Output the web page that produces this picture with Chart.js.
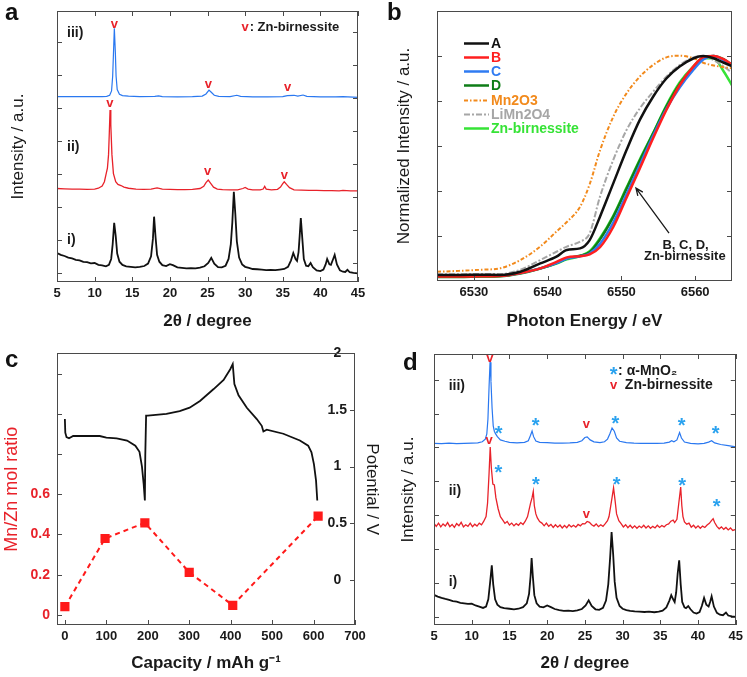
<!DOCTYPE html>
<html lang="en">
<head>
<meta charset="UTF-8">
<title>XRD, XANES and capacity panels</title>
<script src="https://cdn.jsdelivr.net/npm/chart.js"></script>
<style>
  body { margin: 0; background: #fff; }
  #fig { position: relative; width: 747px; height: 677px; overflow: hidden; }
  #fig canvas { position: absolute; }
  .tag { position: absolute; font: bold 24px "Liberation Sans", Arial, sans-serif; line-height: 24px; color: #111; }
</style>
</head>
<body>
<div id="fig">
  <canvas id="chartA" width="374" height="338" style="left:0;top:0"></canvas>
  <canvas id="chartB" width="373" height="338" style="left:374px;top:0"></canvas>
  <canvas id="chartC" width="390" height="339" style="left:0;top:338px"></canvas>
  <canvas id="chartD" width="373" height="339" style="left:374px;top:338px"></canvas>
  <div class="tag" style="left:5px;top:0">a</div>
  <div class="tag" style="left:387px;top:0">b</div>
  <div class="tag" style="left:5px;top:347px">c</div>
  <div class="tag" style="left:403px;top:350px">d</div>
</div>

<script>
// ---- panel a : XRD, 2theta vs intensity (stacked, a.u.) ----
const aTicks = [5, 10, 15, 20, 25, 30, 35, 40, 45];
const aLeftTicks = [3.3, 15.5, 27.7, 39.9, 52.1, 64.3, 76.5, 88.7];
const aRightTicks = [7, 19.2, 31.4, 43.6, 55.8, 68, 80.2, 92.4];
const aBlackX = [5.0,5.5,6.0,6.5,7.0,7.5,8.0,8.5,9.0,9.5,10.0,10.5,11.0,11.5,11.9,12.2,12.4,12.6,12.8,13.0,13.3,13.7,14.2,14.8,15.4,16.0,16.6,17.1,17.5,17.75,17.9,18.1,18.3,18.6,19.0,19.5,20.0,20.4,21.0,21.6,22.2,22.8,23.4,24.0,24.6,25.1,25.5,25.9,26.4,26.9,27.4,27.8,28.1,28.3,28.5,28.7,28.9,29.2,29.6,30.0,30.5,31.0,31.6,32.2,32.8,33.4,34.0,34.6,35.2,35.7,36.1,36.4,36.7,36.9,37.1,37.25,37.4,37.6,37.8,38.1,38.4,38.7,39.0,39.5,40.0,40.4,40.7,40.9,41.2,41.4,41.7,41.9,42.2,42.6,43.0,43.3,43.6,43.9,44.4,45.0];
const aBlackY = [10.7,10.0,9.6,9.0,8.7,8.2,8.0,7.4,7.3,6.9,7.0,6.3,6.1,5.8,6.3,8.5,14.0,21.8,17.0,10.5,7.5,6.3,5.8,5.6,5.4,5.6,5.9,6.8,9.5,16.0,24.1,16.5,10.0,7.5,6.2,5.9,6.6,6.2,5.4,5.2,5.0,5.1,5.0,5.3,5.8,7.0,8.9,6.8,5.5,5.4,6.0,8.5,14.0,22.0,33.3,25.0,15.0,9.0,6.5,5.6,5.2,4.8,4.7,4.6,4.4,4.5,4.4,4.6,4.8,5.6,8.0,10.7,8.5,7.8,11.0,17.0,23.6,16.0,8.5,6.0,5.8,7.0,5.5,4.3,4.0,4.6,6.5,8.5,6.5,6.3,8.5,10.0,6.5,4.3,3.8,3.7,4.5,3.6,3.4,3.2];
const aRedX = [5,6,7,8,9,10,10.5,11.0,11.3,11.5,11.7,11.85,11.95,12.05,12.15,12.3,12.5,12.8,13.1,13.5,13.9,14.5,15.5,16.5,17.5,18.3,19,20,21,22,23,24,24.5,24.8,25.1,25.4,25.8,26.3,27,28,29,29.7,30.0,30.4,31,32,32.4,32.6,32.8,33.5,34.3,34.7,35.0,35.2,35.5,35.9,36.5,37.5,38.5,39.5,40.5,41.5,42.5,43,44,45];
const aRedY = [34.5,34.4,34.3,34.3,34.2,34.3,34.6,35.4,37.0,39.5,42.0,47.0,55.0,63.5,58.0,47.0,40.0,37.0,36.0,35.6,35.0,34.6,34.3,34.2,34.3,34.7,34.3,34.2,34.1,34.1,34.2,34.5,35.3,36.7,37.6,36.5,35.0,34.3,34.1,34.0,34.0,34.5,34.9,34.3,34.0,34.0,34.3,35.3,34.3,34.0,34.2,35.0,36.3,37.0,36.0,34.8,34.0,33.9,33.8,33.8,33.7,33.7,33.6,33.8,33.6,33.6];
const aBlueX = [5,7,9,10,11,11.6,12.0,12.25,12.4,12.5,12.62,12.75,12.85,13.0,13.3,13.7,14.5,16,18,18.5,19,21,23,24.3,24.8,25.2,25.5,25.9,26.5,28,28.9,29.4,31,33,35,35.6,36.5,37.0,37.7,38.2,40,42,43,45];
const aBlueY = [68.4,68.4,68.4,68.4,68.4,68.5,68.9,70.5,76.0,84.0,93.6,85.0,76.0,71.0,69.3,68.8,68.6,68.4,68.5,68.7,68.4,68.3,68.4,68.6,69.4,70.8,70.0,68.9,68.5,68.4,68.9,68.5,68.3,68.3,68.4,68.8,68.9,68.6,69.0,68.5,68.3,68.3,68.4,68.1];

// ---- panel b : Mn K-edge XANES ----
const bTicks = [6530, 6540, 6550, 6560];
const bYTicks = [0.2, 0.4, 0.6, 0.8, 1.0];
const bE = [6525,6528,6531,6533.5,6536.3,6539,6541.2,6542.6,6544.4,6545.7,6547.1,6548.9,6550.7,6552.5,6554.3,6556.1,6557.9,6559.8,6561.1,6562.5,6563.9,6565];
const bA = [0.027,0.027,0.028,0.027,0.041,0.078,0.108,0.138,0.145,0.182,0.286,0.434,0.582,0.716,0.819,0.9,0.953,0.99,1.0,0.99,0.97,0.955];
const bB = [0.02,0.02,0.021,0.022,0.035,0.056,0.085,0.105,0.11,0.118,0.15,0.24,0.37,0.5,0.634,0.76,0.87,0.955,0.995,1.0,0.985,0.962];
const bC = [0.025,0.025,0.025,0.025,0.036,0.056,0.08,0.1,0.11,0.122,0.165,0.26,0.385,0.515,0.645,0.765,0.86,0.94,0.985,1.0,0.98,0.955];
const bD = [0.018,0.018,0.02,0.021,0.033,0.055,0.08,0.1,0.112,0.128,0.185,0.285,0.41,0.535,0.655,0.775,0.875,0.95,0.99,1.0,0.985,0.96];
const bMn2O3 = [0.041,0.045,0.05,0.056,0.093,0.153,0.22,0.262,0.33,0.43,0.58,0.73,0.834,0.908,0.96,0.994,1.001,0.99,0.97,0.958,0.95,0.945];
const bLiMn2O4 = [0.03,0.03,0.031,0.031,0.05,0.093,0.13,0.153,0.175,0.212,0.375,0.538,0.671,0.767,0.841,0.908,0.96,0.994,1.0,0.982,0.953,0.925];
const bZnBir = [0.02,0.02,0.021,0.022,0.035,0.056,0.078,0.096,0.111,0.132,0.19,0.29,0.415,0.54,0.657,0.78,0.882,0.955,0.99,0.99,0.93,0.87];

// ---- panel c : charge/discharge + Mn/Zn ratio ----
const cTicks = [0, 100, 200, 300, 400, 500, 600, 700];
const cRatioLabels = [0, 0.2, 0.4, 0.6];
const cRatioMarks = [0, 0.2, 0.4, 0.6, 0.8, 1.0, 1.2];
const cVoltTicks = [0, 0.5, 1, 1.5, 2];
const cCap = [0,1,4,10,20,50,84,100,125,150,170,180,186,190,193,194,196,200,245,277,301,326,359,383,399,405,409,419,439,463,475,479,487,527,567,587,595,601,606,609];
const cVolt = [1.42,1.30,1.26,1.25,1.27,1.27,1.27,1.255,1.25,1.23,1.185,1.13,1.0,0.85,0.70,1.10,1.45,1.45,1.465,1.49,1.52,1.58,1.685,1.765,1.86,1.905,1.73,1.63,1.52,1.42,1.36,1.31,1.326,1.29,1.23,1.185,1.126,1.02,0.876,0.70];
const cRatioCap = [0, 97, 193, 300, 405, 611];
const cRatio = [0.041, 0.38, 0.458, 0.212, 0.048, 0.491];

// ---- panel d : XRD after cycling ----
const dTicks = [5, 10, 15, 20, 25, 30, 35, 40, 45];
const dSideTicks = [3, 15.5, 28, 40.5, 53, 65.5, 78, 90.5];
const dBlackX = [5.0,5.5,6,6.5,7,7.5,8,8.5,9,9.5,10,10.5,11,11.5,11.9,12.2,12.45,12.66,12.85,13.1,13.4,13.8,14.3,15,15.6,16.2,16.8,17.3,17.6,17.8,17.94,18.1,18.3,18.6,19.0,19.5,20.0,20.5,21.0,21.6,22.2,22.8,23.4,24,24.6,25.1,25.5,25.9,26.4,26.9,27.4,27.8,28.1,28.35,28.54,28.75,28.95,29.2,29.6,30,30.5,31,31.6,32.2,32.9,33.5,34.2,34.8,35.3,35.8,36.2,36.45,36.7,36.9,37.1,37.3,37.5,37.7,37.9,38.2,38.4,38.7,39.0,39.4,39.8,40.2,40.5,40.8,41.1,41.4,41.6,41.8,42.1,42.5,42.9,43.3,43.7,44.0,44.5,45];
const dBlackY = [11.1,10.5,10.0,9.6,9.3,8.8,8.6,8.2,8.0,7.8,7.9,7.2,6.8,6.3,6.8,9.5,16,22.0,15,9.5,7.5,6.6,6.2,6.0,5.8,6.0,6.6,8.0,11.5,18,24.7,18,11,8,6.8,6.5,7.2,6.6,5.9,5.5,5.2,5.3,5.1,5.4,5.9,7.2,9.1,7.0,5.8,5.6,6.3,9,15,25,34.3,26,16,10,7.0,6.0,5.5,5.2,5.0,4.9,4.8,4.9,4.7,4.9,5.3,6.5,9.0,11.0,9.5,8.5,12,19,23.9,15,8.5,6.5,6.2,7.0,5.8,4.6,4.2,4.8,7,10,7.5,6.8,8.5,10.6,6.8,4.5,3.8,3.6,4.6,3.5,3.2,3.0];
const dRedX = [5.0,5.3,5.6,5.9,6.2,6.5,6.8,7.1,7.4,7.7,8.0,8.3,8.6,8.9,9.2,9.5,9.8,10.1,10.4,10.7,11.0,11.3,11.6,11.9,12.1,12.3,12.45,12.6,12.8,13.0,13.2,13.5,13.8,14.1,14.4,14.7,15.0,15.3,15.6,15.9,16.2,16.5,16.8,17.1,17.4,17.6,17.8,18.0,18.16,18.3,18.5,18.7,19.0,19.3,19.6,19.9,20.2,20.5,20.8,21.1,21.4,21.7,22.0,22.3,22.6,22.9,23.2,23.5,23.8,24.1,24.4,24.7,25.0,25.3,25.6,25.9,26.2,26.5,26.8,27.1,27.4,27.7,28.0,28.2,28.4,28.6,28.8,29.0,29.2,29.5,29.8,30.1,30.4,30.7,31.0,31.3,31.6,31.9,32.2,32.5,32.8,33.1,33.4,33.7,34.0,34.3,34.6,34.9,35.2,35.5,35.8,36.1,36.4,36.7,36.9,37.2,37.45,37.7,37.85,38.0,38.2,38.5,38.8,39.1,39.4,39.7,40.0,40.3,40.6,40.9,41.2,41.5,41.8,42.0,42.2,42.5,42.8,43.1,43.4,43.7,44.0,44.3,44.6,45.0];
const dRedY = [37.5,36.4,37.6,36.2,37.3,36.5,37.8,36.3,37.1,36.0,37.4,36.6,37.9,36.2,37.0,36.4,37.6,36.3,37.2,36.5,37.6,37.0,38.3,40.0,45.0,56.0,65.7,58.0,52.0,51.7,47.0,42.9,40.0,38.8,37.5,38.2,36.9,37.6,36.6,37.4,36.8,37.8,37.1,38.3,40.0,42.5,45.0,47.0,49.3,44.0,41.0,39.5,38.2,37.6,36.6,37.6,36.4,37.1,36.0,37.0,36.1,36.9,35.8,36.7,35.9,37.0,36.2,36.8,36.1,37.1,36.6,37.4,37.3,38.2,37.9,37.0,36.5,37.3,36.3,37.0,36.4,37.4,38.5,40.0,43.5,47.0,50.6,46.0,41.0,38.5,37.4,36.2,37.0,35.9,36.8,35.8,36.6,35.7,36.5,35.9,36.8,35.8,36.6,35.7,36.4,35.8,36.8,36.0,36.7,36.2,37.0,37.3,38.3,38.7,37.8,39.0,45.0,50.9,44.0,40.0,38.0,37.2,37.6,36.1,36.8,35.8,36.6,35.7,36.5,36.0,36.9,37.5,38.6,39.2,37.8,36.4,35.5,36.2,35.3,36.0,35.1,35.8,34.9,35.3];
const dBlueX = [5,6,7,8,9,10,10.8,11.4,11.8,12.0,12.15,12.3,12.43,12.55,12.7,12.85,13.0,13.15,13.4,13.8,14.4,15,16,17,17.5,17.8,18.0,18.2,18.5,19,20,21,22,23,24,24.6,25.0,25.3,25.7,26.2,27,27.6,28.0,28.3,28.6,28.9,29.2,29.6,30.5,31.5,32.5,33.5,34.5,35.5,36.2,36.5,36.8,37.2,37.55,37.8,38.2,39,40,40.8,41.4,41.8,42.2,43,44,45];
const dBlueY = [67.0,66.9,67.1,66.9,67.0,67.1,67.2,67.6,68.6,70.5,76.0,88.0,97.0,90.0,80.0,73.5,71.5,70.6,69.5,68.3,67.8,67.4,67.2,67.4,68.0,70.0,71.6,69.5,67.9,67.4,67.3,67.1,67.1,67.2,67.4,68.0,69.2,69.4,68.3,67.6,67.3,67.6,68.6,70.5,72.7,71.5,69.0,67.8,67.3,67.1,67.0,67.0,67.0,67.1,67.5,68.0,67.6,68.3,71.0,69.0,67.5,67.0,66.8,67.0,67.5,68.0,67.2,66.6,66.2,65.7];

const FONT = '"Liberation Sans", Arial, sans-serif';
const INK = '#1a1a1a';
const RED = '#e8222a';
const SKY = '#2aa2ef';
Chart.defaults.font.family = FONT;
Chart.defaults.color = INK;

const pts = (xs, ys) => xs.map((x, i) => ({ x, y: ys[i] }));

// frame around the plot area plus inward tick marks
const boxTicks = {
  id: 'boxTicks',
  afterDatasetsDraw(chart, args, opts) {
    const { ctx, chartArea: a, scales } = chart;
    const len = opts.len || 5;
    ctx.save();
    ctx.strokeStyle = '#4a4a4a';
    ctx.lineWidth = 1;
    ctx.strokeRect(Math.round(a.left) + 0.5, Math.round(a.top) + 0.5,
      Math.round(a.right - a.left) - 1, Math.round(a.bottom - a.top) - 1);
    ctx.beginPath();
    (opts.sets || []).forEach(set => {
      const s = scales[set.scale];
      set.values.forEach(v => {
        const p = Math.round(s.getPixelForValue(v)) + 0.5;
        if (set.side === 'bottom') { ctx.moveTo(p, a.bottom); ctx.lineTo(p, a.bottom - len); }
        if (set.side === 'top') { ctx.moveTo(p, a.top); ctx.lineTo(p, a.top + len); }
        if (set.side === 'left') { ctx.moveTo(a.left, p); ctx.lineTo(a.left + len, p); }
        if (set.side === 'right') { ctx.moveTo(a.right, p); ctx.lineTo(a.right - len, p); }
      });
    });
    ctx.stroke();
    ctx.restore();
  }
};

// text labels and arrows placed in data coordinates
const notes = {
  id: 'notes',
  afterDatasetsDraw(chart, args, opts) {
    const { ctx, scales } = chart;
    ctx.save();
    ctx.textBaseline = 'alphabetic';
    (opts.items || []).forEach(n => {
      ctx.font = n.font || `bold 14px ${FONT}`;
      ctx.fillStyle = n.color || INK;
      ctx.textAlign = n.align || 'center';
      ctx.fillText(n.text, scales.x.getPixelForValue(n.x), scales.y.getPixelForValue(n.y));
    });
    (opts.arrows || []).forEach(r => {
      const x1 = scales.x.getPixelForValue(r.x1), y1 = scales.y.getPixelForValue(r.y1);
      const x2 = scales.x.getPixelForValue(r.x2), y2 = scales.y.getPixelForValue(r.y2);
      const ang = Math.atan2(y2 - y1, x2 - x1);
      ctx.strokeStyle = INK;
      ctx.lineWidth = 1.3;
      ctx.beginPath();
      ctx.moveTo(x1, y1); ctx.lineTo(x2, y2);
      ctx.moveTo(x2 - 8 * Math.cos(ang - 0.4), y2 - 8 * Math.sin(ang - 0.4));
      ctx.lineTo(x2, y2);
      ctx.lineTo(x2 - 8 * Math.cos(ang + 0.4), y2 - 8 * Math.sin(ang + 0.4));
      ctx.stroke();
    });
    ctx.restore();
  }
};

// line legend drawn inside the plot (panel b)
const lineKey = {
  id: 'lineKey',
  afterDatasetsDraw(chart, args, opts) {
    const { ctx } = chart;
    ctx.save();
    ctx.font = `bold 14px ${FONT}`;
    ctx.textBaseline = 'middle';
    ctx.textAlign = 'left';
    chart.data.datasets.forEach((ds, i) => {
      const y = Math.round(opts.y + i * opts.dy) + 0.5;
      ctx.strokeStyle = ds.borderColor;
      ctx.lineWidth = ds.borderWidth;
      ctx.setLineDash(ds.borderDash || []);
      ctx.beginPath();
      ctx.moveTo(opts.x, y); ctx.lineTo(opts.x + opts.len, y);
      ctx.stroke();
      ctx.fillStyle = ds.borderColor;
      ctx.fillText(ds.label, opts.x + opts.len + 2, y + 1);
    });
    ctx.restore();
  }
};

function xAxis(min, max, tickVals, title, height, titlePad) {
  return {
    type: 'linear', min, max,
    afterBuildTicks: s => { s.ticks = tickVals.map(v => ({ value: v })); },
    afterFit: s => { s.height = height; },
    grid: { display: false, drawTicks: false },
    border: { display: false },
    ticks: { padding: 4, autoSkip: false, maxRotation: 0, color: INK,
      font: { size: 13, weight: 'bold' }, callback: v => String(v) },
    title: { display: true, text: title, color: INK,
      font: { size: 17, weight: 'bold' }, padding: { top: 0, bottom: titlePad } }
  };
}

function blankY(min, max, width, title, titlePad) {
  return {
    type: 'linear', min, max,
    afterFit: s => { s.width = width; },
    ticks: { display: false },
    grid: { display: false, drawTicks: false },
    border: { display: false },
    title: { display: true, text: title, color: INK, font: { size: 17 },
      padding: { top: titlePad, bottom: 0 } }
  };
}

const base = {
  responsive: false,
  animation: false,
  events: [],
  elements: { point: { radius: 0 }, line: { tension: 0 } },
};

// panel a
new Chart(document.getElementById('chartA'), {
  type: 'line',
  data: { datasets: [
    { data: pts(aBlueX, aBlueY), borderColor: '#2a78f0', borderWidth: 1.2 },
    { data: pts(aRedX, aRedY), borderColor: RED, borderWidth: 1.3 },
    { data: pts(aBlackX, aBlackY), borderColor: '#111', borderWidth: 1.8 }
  ]},
  options: Object.assign({}, base, {
    layout: { padding: { left: 0, right: 16, top: 11, bottom: 0 } },
    scales: {
      x: xAxis(5, 45, aTicks, '2θ / degree', 56, 6),
      y: blankY(0, 100, 57, 'Intensity / a.u.', 8.4)
    },
    plugins: {
      legend: { display: false }, tooltip: { enabled: false },
      boxTicks: { sets: [
        { scale: 'x', side: 'bottom', values: aTicks },
        { scale: 'x', side: 'top', values: aTicks },
        { scale: 'y', side: 'left', values: aLeftTicks },
        { scale: 'y', side: 'right', values: aRightTicks }
      ]},
      notes: { items: [
        { x: 6.33, y: 90.5, text: 'iii)', align: 'left' },
        { x: 6.33, y: 48.3, text: 'ii)', align: 'left' },
        { x: 6.33, y: 13.9, text: 'i)', align: 'left' },
        { x: 12.62, y: 93.8, text: 'v', color: RED, font: `bold 13px ${FONT}` },
        { x: 25.1, y: 71.5, text: 'v', color: RED, font: `bold 13px ${FONT}` },
        { x: 35.66, y: 70.6, text: 'v', color: RED, font: `bold 13px ${FONT}` },
        { x: 12.04, y: 64.7, text: 'v', color: RED, font: `bold 13px ${FONT}` },
        { x: 25.03, y: 39.5, text: 'v', color: RED, font: `bold 13px ${FONT}` },
        { x: 35.2, y: 38.0, text: 'v', color: RED, font: `bold 13px ${FONT}` },
        { x: 30.0, y: 92.8, text: 'v', color: RED, font: `bold 13px ${FONT}` },
        { x: 30.6, y: 92.8, text: ': Zn-birnessite', align: 'left', font: `bold 13px ${FONT}` }
      ]}
    }
  }),
  plugins: [boxTicks, notes]
});

// panel b
new Chart(document.getElementById('chartB'), {
  type: 'line',
  data: { datasets: [
    { label: 'A', data: pts(bE, bA), borderColor: '#111', borderWidth: 2.5 },
    { label: 'B', data: pts(bE, bB), borderColor: '#ff1f1f', borderWidth: 2.5 },
    { label: 'C', data: pts(bE, bC), borderColor: '#2f7bf2', borderWidth: 2.5 },
    { label: 'D', data: pts(bE, bD), borderColor: '#0e7d17', borderWidth: 2.5 },
    { label: 'Mn2O3', data: pts(bE, bMn2O3), borderColor: '#f28a1c', borderWidth: 2, borderDash: [4, 2, 1.5, 2] },
    { label: 'LiMn2O4', data: pts(bE, bLiMn2O4), borderColor: '#a6a6a6', borderWidth: 2, borderDash: [6, 2, 2, 2] },
    { label: 'Zn-birnessite', data: pts(bE, bZnBir), borderColor: '#36e336', borderWidth: 2.5 }
  ]},
  options: Object.assign({}, base, {
    elements: { point: { radius: 0 }, line: { cubicInterpolationMode: 'monotone' } },
    layout: { padding: { left: 0, right: 15, top: 11, bottom: 0 } },
    scales: {
      x: xAxis(6525, 6565, bTicks, 'Photon Energy / eV', 57, 6),
      y: blankY(0, 1.2, 63, 'Normalized Intensity / a.u.', 19.8)
    },
    plugins: {
      legend: { display: false }, tooltip: { enabled: false },
      boxTicks: { sets: [
        { scale: 'x', side: 'bottom', values: bTicks },
        { scale: 'y', side: 'left', values: bYTicks },
        { scale: 'y', side: 'right', values: bYTicks }
      ]},
      lineKey: { x: 90, y: 43, dy: 14.15, len: 25 },
      notes: {
        items: [
          { x: 6558.7, y: 0.141, text: 'B, C, D,', font: `bold 13px ${FONT}` },
          { x: 6558.6, y: 0.093, text: 'Zn-birnessite', font: `bold 13px ${FONT}` }
        ],
        arrows: [{ x1: 6556.46, y1: 0.213, x2: 6551.98, y2: 0.413 }]
      }
    }
  }),
  plugins: [boxTicks, notes, lineKey]
});

// panel c
new Chart(document.getElementById('chartC'), {
  type: 'line',
  data: { datasets: [
    { data: pts(cRatioCap, cRatio), yAxisID: 'y', borderColor: '#ff1a1a', borderWidth: 2,
      borderDash: [5, 4], pointStyle: 'rect', pointRadius: 6.5,
      pointBackgroundColor: '#ff1a1a', pointBorderWidth: 0 },
    { data: pts(cCap, cVolt), yAxisID: 'y2', borderColor: '#111', borderWidth: 1.8 }
  ]},
  options: Object.assign({}, base, {
    layout: { padding: { left: 0, right: 4, top: 15, bottom: 0 } },
    scales: {
      x: xAxis(-19, 700, cTicks, 'Capacity / mAh g⁻¹', 52, 3),
      y: {
        type: 'linear', position: 'left', min: -0.05, max: 1.3,
        afterBuildTicks: s => { s.ticks = cRatioLabels.map(v => ({ value: v })); },
        afterFit: s => { s.width = 57; },
        grid: { display: false, drawTicks: false }, border: { display: false },
        ticks: { padding: 7, color: RED, font: { size: 14, weight: 'bold' }, callback: v => String(v) },
        title: { display: true, text: 'Mn/Zn mol ratio', color: RED, font: { size: 18 },
          padding: { top: 1, bottom: 0 } }
      },
      y2: {
        type: 'linear', position: 'right', min: -0.4, max: 2,
        afterBuildTicks: s => { s.ticks = cVoltTicks.map(v => ({ value: v })); },
        afterFit: s => { s.width = 31; },
        grid: { display: false, drawTicks: false }, border: { display: false },
        ticks: { mirror: true, crossAlign: 'center', padding: -8, color: INK,
          font: { size: 14, weight: 'bold' }, callback: v => String(v) },
        title: { display: true, text: 'Potential / V', color: INK, font: { size: 17 },
          padding: { top: 4, bottom: 0 } }
      }
    },
    plugins: {
      legend: { display: false }, tooltip: { enabled: false },
      boxTicks: { sets: [
        { scale: 'x', side: 'bottom', values: cTicks },
        { scale: 'y', side: 'left', values: cRatioMarks },
        { scale: 'y2', side: 'right', values: cVoltTicks }
      ]}
    }
  }),
  plugins: [boxTicks]
});

// panel d
const starFont = `bold 20px ${FONT}`;
const vFont = `bold 13px ${FONT}`;
new Chart(document.getElementById('chartD'), {
  type: 'line',
  data: { datasets: [
    { data: pts(dBlueX, dBlueY), borderColor: '#2a78f0', borderWidth: 1.2 },
    { data: pts(dRedX, dRedY), borderColor: RED, borderWidth: 1.3 },
    { data: pts(dBlackX, dBlackY), borderColor: '#111', borderWidth: 1.8 }
  ]},
  options: Object.assign({}, base, {
    layout: { padding: { left: 0, right: 10, top: 16, bottom: 0 } },
    scales: {
      x: xAxis(5, 45, dTicks, '2θ / degree', 52, 3),
      y: blankY(0, 100, 60, 'Intensity / a.u.', 23.8)
    },
    plugins: {
      legend: { display: false }, tooltip: { enabled: false },
      boxTicks: { sets: [
        { scale: 'x', side: 'bottom', values: dTicks },
        { scale: 'x', side: 'top', values: dTicks },
        { scale: 'y', side: 'left', values: dSideTicks },
        { scale: 'y', side: 'right', values: dSideTicks }
      ]},
      notes: { items: [
        { x: 6.94, y: 86.8, text: 'iii)', align: 'left' },
        { x: 6.94, y: 48.1, text: 'ii)', align: 'left' },
        { x: 6.94, y: 14.3, text: 'i)', align: 'left' },
        { x: 12.4, y: 96.9, text: 'v', color: RED, font: vFont },
        { x: 13.58, y: 68.1, text: '*', color: SKY, font: starFont },
        { x: 18.47, y: 71.2, text: '*', color: SKY, font: starFont },
        { x: 25.2, y: 72.7, text: 'v', color: RED, font: vFont },
        { x: 29.03, y: 71.9, text: '*', color: SKY, font: starFont },
        { x: 37.83, y: 71.3, text: '*', color: SKY, font: starFont },
        { x: 42.32, y: 68.2, text: '*', color: SKY, font: starFont },
        { x: 12.3, y: 66.9, text: 'v', color: RED, font: vFont },
        { x: 13.54, y: 53.7, text: '*', color: SKY, font: starFont },
        { x: 18.5, y: 49.6, text: '*', color: SKY, font: starFont },
        { x: 25.2, y: 39.6, text: 'v', color: RED, font: vFont },
        { x: 29.2, y: 49.6, text: '*', color: SKY, font: starFont },
        { x: 37.9, y: 49.2, text: '*', color: SKY, font: starFont },
        { x: 42.45, y: 41.2, text: '*', color: SKY, font: starFont },
        { x: 28.8, y: 89.9, text: '*', color: SKY, font: starFont },
        { x: 29.4, y: 92.1, text: ': α-MnO₂', align: 'left' },
        { x: 28.8, y: 87.2, text: 'v', color: RED, font: vFont },
        { x: 30.3, y: 87.0, text: 'Zn-birnessite', align: 'left' }
      ]}
    }
  }),
  plugins: [boxTicks, notes]
});
</script>
</body>
</html>
